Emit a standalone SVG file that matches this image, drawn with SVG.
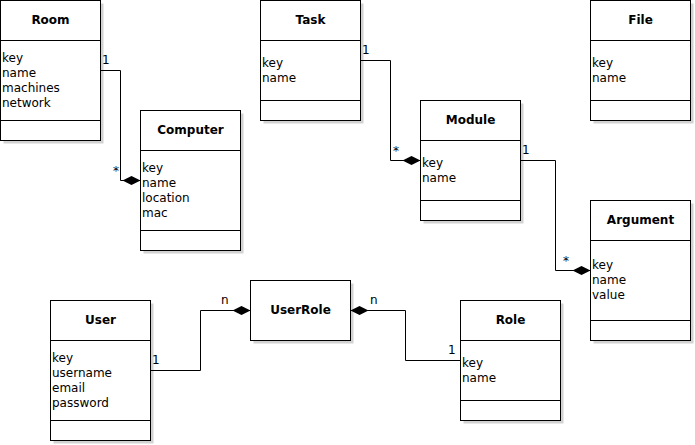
<svg xmlns="http://www.w3.org/2000/svg" width="695" height="445" viewBox="0 0 695 445">
<style>
.sh{fill:#d2d2d2;stroke:none}
.bx{fill:#fff;stroke:#000;stroke-width:1}
.ln{stroke:#000;stroke-width:1}
.t{font-family:"DejaVu Sans",sans-serif;font-size:12px;font-weight:bold;text-anchor:middle;fill:#000}
.a{font-family:"DejaVu Sans",sans-serif;font-size:12px;fill:#000}
.m{font-family:"DejaVu Sans",sans-serif;font-size:12px;fill:#000}
.c{fill:none;stroke:#000;stroke-width:1}
</style>
<defs>
<marker id="dia" viewBox="0 -5 18 10" markerWidth="18" markerHeight="10" refX="18" refY="0" orient="auto" markerUnits="userSpaceOnUse">
<path d="M0,0 L9,-4.5 L18,0 L9,4.5 Z" fill="#000"/>
</marker>
</defs>

<g id="Room">
<rect class="sh" x="3.5" y="3.5" width="100" height="140"/>
<rect class="bx" x="0.5" y="0.5" width="100" height="140"/>
<line class="ln" x1="0.5" y1="40.5" x2="100.5" y2="40.5"/>
<line class="ln" x1="0.5" y1="120.5" x2="100.5" y2="120.5"/>
<text class="t" x="50.5" y="24">Room</text>
<text class="a" x="2" y="62">key</text>
<text class="a" x="2" y="77">name</text>
<text class="a" x="2" y="92">machines</text>
<text class="a" x="2" y="107">network</text>
</g>

<g id="Computer">
<rect class="sh" x="143.5" y="113.5" width="100" height="140"/>
<rect class="bx" x="140.5" y="110.5" width="100" height="140"/>
<line class="ln" x1="140.5" y1="150.5" x2="240.5" y2="150.5"/>
<line class="ln" x1="140.5" y1="230.5" x2="240.5" y2="230.5"/>
<text class="t" x="190.5" y="134">Computer</text>
<text class="a" x="142" y="172">key</text>
<text class="a" x="142" y="187">name</text>
<text class="a" x="142" y="202">location</text>
<text class="a" x="142" y="217">mac</text>
</g>

<g id="Task">
<rect class="sh" x="263.5" y="3.5" width="100" height="120"/>
<rect class="bx" x="260.5" y="0.5" width="100" height="120"/>
<line class="ln" x1="260.5" y1="40.5" x2="360.5" y2="40.5"/>
<line class="ln" x1="260.5" y1="100.5" x2="360.5" y2="100.5"/>
<text class="t" x="310.5" y="24">Task</text>
<text class="a" x="262" y="67">key</text>
<text class="a" x="262" y="82">name</text>
</g>

<g id="File">
<rect class="sh" x="593.5" y="3.5" width="100" height="120"/>
<rect class="bx" x="590.5" y="0.5" width="100" height="120"/>
<line class="ln" x1="590.5" y1="40.5" x2="690.5" y2="40.5"/>
<line class="ln" x1="590.5" y1="100.5" x2="690.5" y2="100.5"/>
<text class="t" x="640.5" y="24">File</text>
<text class="a" x="592" y="67">key</text>
<text class="a" x="592" y="82">name</text>
</g>

<g id="Module">
<rect class="sh" x="423.5" y="103.5" width="100" height="120"/>
<rect class="bx" x="420.5" y="100.5" width="100" height="120"/>
<line class="ln" x1="420.5" y1="140.5" x2="520.5" y2="140.5"/>
<line class="ln" x1="420.5" y1="200.5" x2="520.5" y2="200.5"/>
<text class="t" x="470.5" y="124">Module</text>
<text class="a" x="422" y="167">key</text>
<text class="a" x="422" y="182">name</text>
</g>

<g id="Argument">
<rect class="sh" x="593.5" y="203.5" width="100" height="140"/>
<rect class="bx" x="590.5" y="200.5" width="100" height="140"/>
<line class="ln" x1="590.5" y1="240.5" x2="690.5" y2="240.5"/>
<line class="ln" x1="590.5" y1="320.5" x2="690.5" y2="320.5"/>
<text class="t" x="640.5" y="224">Argument</text>
<text class="a" x="592" y="269">key</text>
<text class="a" x="592" y="284">name</text>
<text class="a" x="592" y="299">value</text>
</g>

<g id="User">
<rect class="sh" x="53.5" y="303.5" width="100" height="140"/>
<rect class="bx" x="50.5" y="300.5" width="100" height="140"/>
<line class="ln" x1="50.5" y1="340.5" x2="150.5" y2="340.5"/>
<line class="ln" x1="50.5" y1="420.5" x2="150.5" y2="420.5"/>
<text class="t" x="100.5" y="324">User</text>
<text class="a" x="52" y="362">key</text>
<text class="a" x="52" y="377">username</text>
<text class="a" x="52" y="392">email</text>
<text class="a" x="52" y="407">password</text>
</g>

<g id="UserRole">
<rect class="sh" x="253.5" y="283.5" width="100" height="60"/>
<rect class="bx" x="250.5" y="280.5" width="100" height="60"/>
<text class="t" x="300.5" y="314">UserRole</text>
</g>

<g id="Role">
<rect class="sh" x="463.5" y="303.5" width="100" height="120"/>
<rect class="bx" x="460.5" y="300.5" width="100" height="120"/>
<line class="ln" x1="460.5" y1="340.5" x2="560.5" y2="340.5"/>
<line class="ln" x1="460.5" y1="400.5" x2="560.5" y2="400.5"/>
<text class="t" x="510.5" y="324">Role</text>
<text class="a" x="462" y="367">key</text>
<text class="a" x="462" y="382">name</text>
</g>

<g id="connectors">
<path class="c" d="M100.5,70.5 H120.5 V180.5 H140.5" marker-end="url(#dia)"/>
<text class="m" x="102" y="64">1</text>
<text class="m" x="113" y="175">*</text>

<path class="c" d="M360.5,60.5 H390.5 V160.5 H420.5" marker-end="url(#dia)"/>
<text class="m" x="362" y="54">1</text>
<text class="m" x="393" y="155">*</text>

<path class="c" d="M520.5,160.5 H555.5 V270.5 H590.5" marker-end="url(#dia)"/>
<text class="m" x="522" y="154">1</text>
<text class="m" x="563" y="265">*</text>

<path class="c" d="M150.5,370.5 H200.5 V310.5 H250.5" marker-end="url(#dia)"/>
<text class="m" x="152" y="364">1</text>
<text class="m" x="221" y="304">n</text>

<path class="c" d="M460.5,360.5 H405.5 V310.5 H350.5" marker-end="url(#dia)"/>
<text class="m" x="448" y="354">1</text>
<text class="m" x="370" y="304">n</text>
</g>
</svg>
